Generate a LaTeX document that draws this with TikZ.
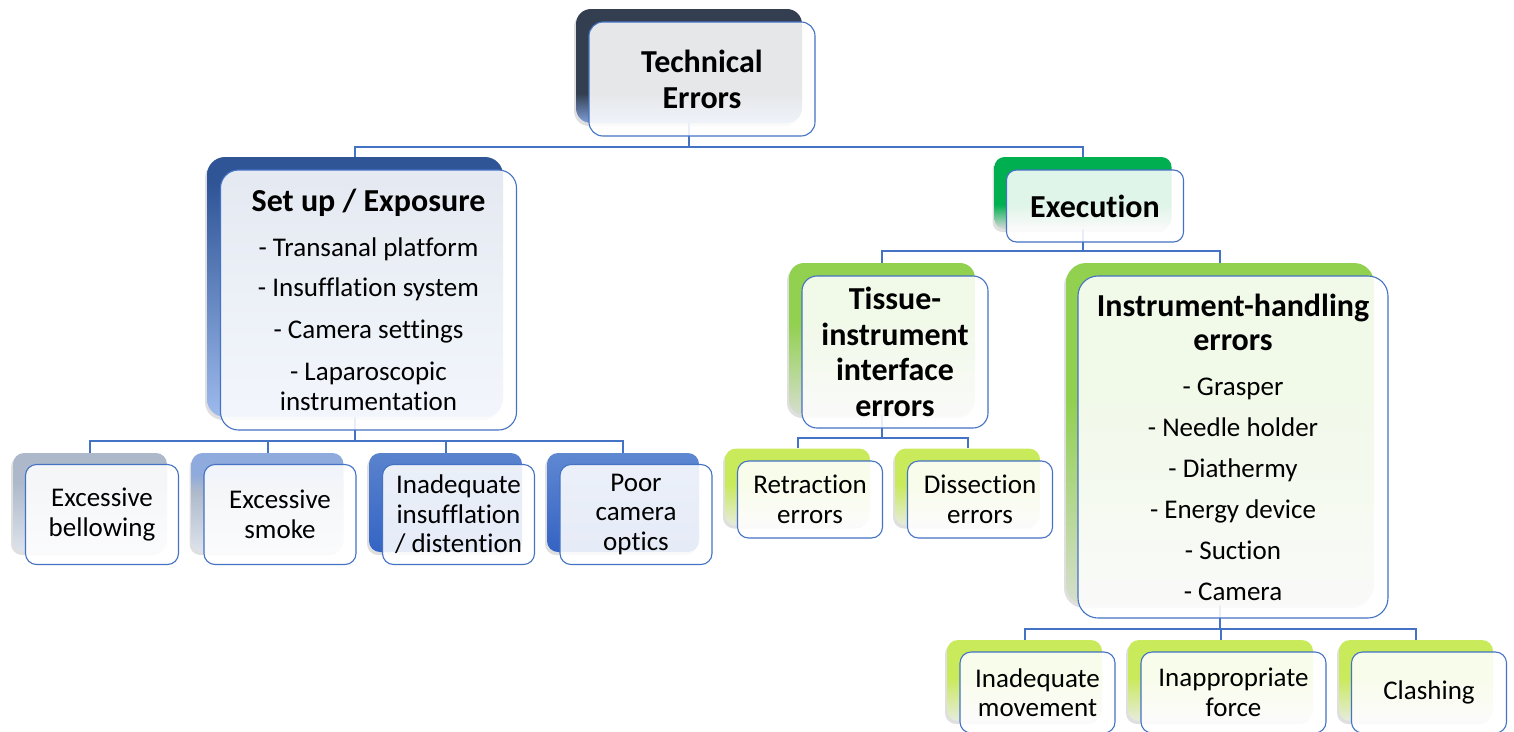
\documentclass[tikz,border=0pt]{standalone}
\usepackage{fontspec}
\setmainfont{Carlito}[Ligatures={NoCommon}]
\usetikzlibrary{calc,shadows}

\definecolor{conn}{HTML}{4472C4}
\definecolor{techT}{HTML}{333F50}\definecolor{techB}{HTML}{7F9FD8}
\definecolor{setT}{HTML}{2F5597}\definecolor{setB}{HTML}{9DBAEC}
\definecolor{exT}{HTML}{00B050}\definecolor{exB}{HTML}{D9D9D9}
\definecolor{grT}{HTML}{92D050}\definecolor{grB}{HTML}{D6DECE}
\definecolor{lgT}{HTML}{C9EA5A}\definecolor{lgB}{HTML}{E6EBDD}
\definecolor{belT}{HTML}{ADB9CA}\definecolor{belB}{HTML}{DDE3EC}
\definecolor{smT}{HTML}{8FAADC}
\definecolor{insT}{HTML}{5A83CE}\definecolor{insB}{HTML}{3464C4}
\definecolor{poT}{HTML}{5F88D2}\definecolor{poB}{HTML}{3563C3}

\pgfdeclareverticalshading{shTech}{100bp}{color(0bp)=(techB); color(25bp)=(techB); color(38bp)=(techT); color(100bp)=(techT)}
\pgfdeclareverticalshading{shSet}{100bp}{color(0bp)=(setB); color(25bp)=(setB); color(70bp)=(setT); color(100bp)=(setT)}
\pgfdeclareverticalshading{shEx}{100bp}{color(0bp)=(exB); color(25bp)=(exB); color(42bp)=(exT); color(100bp)=(exT)}
\pgfdeclareverticalshading{shGr}{100bp}{color(0bp)=(grB); color(25bp)=(grB); color(55bp)=(grT); color(100bp)=(grT)}
\pgfdeclareverticalshading{shLg}{100bp}{color(0bp)=(lgB); color(25bp)=(lgB); color(52bp)=(lgT); color(100bp)=(lgT)}
\pgfdeclareverticalshading{shBel}{100bp}{color(0bp)=(belB); color(25bp)=(belB); color(60bp)=(belT); color(100bp)=(belT)}
\pgfdeclareverticalshading{shSm}{100bp}{color(0bp)=(belB); color(25bp)=(belB); color(56bp)=(belT); color(64bp)=(smT); color(100bp)=(smT)}
\pgfdeclareverticalshading{shIns}{100bp}{color(0bp)=(insB); color(25bp)=(insB); color(75bp)=(insT); color(100bp)=(insT)}
\pgfdeclareverticalshading{shPo}{100bp}{color(0bp)=(poB); color(25bp)=(poB); color(75bp)=(poT); color(100bp)=(poT)}

\pgfdeclarelayer{bg}
\pgfsetlayers{bg,main}

\newcommand{\bigbf}{\fontsize{32}{35.5}\selectfont\bfseries}
\newcommand{\reg}{\fontsize{27}{29.5}\selectfont}

\tikzset{
  backbox/.style={rectangle, rounded corners=15pt, inner sep=0pt, draw=none,
    drop shadow={shadow xshift=-2pt, shadow yshift=-3pt, opacity=0.25}},
  leafback/.style={backbox, rounded corners=11pt},
  frontbox/.style={rectangle, rounded corners=14pt, inner sep=0pt, draw=conn,
    line width=1.1pt, fill=white, fill opacity=0.88, text opacity=1,
    text=black, align=center},
  leaffront/.style={frontbox, rounded corners=11pt, font=\reg},
  wire/.style={draw=conn, line width=2pt},
}

\begin{document}
\begin{tikzpicture}[x=1pt, y=-1pt]
\useasboundingbox (0,0) rectangle (1514,731);

% bus coordinates
\coordinate (b1) at (0,147);
\coordinate (b2) at (0,441);
\coordinate (b3) at (0,251);
\coordinate (b4) at (0,438);
\coordinate (b5) at (0,629);

% ---- Technical Errors
\node[backbox, shading=shTech, minimum width=226pt, minimum height=114pt] (tech) at (689,66) {};
\node[frontbox, minimum width=226pt, minimum height=114pt, font=\bigbf] (techF) at ($(tech)+(13,13)$) {Technical\\[0.5pt]Errors};

% ---- Set up / Exposure
\node[backbox, shading=shSet, rounded corners=18pt, minimum width=296pt, minimum height=260pt] (setup) at (355,287) {};
\node[frontbox, rounded corners=18pt, minimum width=296pt, minimum height=260pt, font=\reg] (setupF) at ($(setup)+(13.5,13)$)
  {{\bigbf Set up / Exposure}\\[15pt]- Transanal platform\\[11pt]- Insufflation system\\[12pt]- Camera settings\\[13pt]- Laparoscopic\\instrumentation};

% ---- Execution
\node[backbox, shading=shEx, rounded corners=10pt, minimum width=177pt, minimum height=72pt] (exec) at (1083,193) {};
\node[frontbox, rounded corners=10pt, minimum width=177pt, minimum height=72pt, font=\bigbf] (execF) at ($(exec)+(12,13)$) {Execution};

% ---- Tissue-instrument interface errors
\node[backbox, shading=shGr, rounded corners=15pt, minimum width=186pt, minimum height=152pt] (tissue) at (882,339) {};
\node[frontbox, rounded corners=15pt, minimum width=186pt, minimum height=152pt, font=\bigbf] (tissueF) at ($(tissue)+(13,13)$)
  {Tissue-\\instrument\\interface\\errors};

% ---- Instrument-handling errors
\node[backbox, shading=shGr, rounded corners=20pt, minimum width=308pt, minimum height=342pt] (instr) at (1220,434) {};
\node[frontbox, rounded corners=20pt, minimum width=310pt, minimum height=342pt, font=\reg] (instrF) at ($(instr)+(13,13)$)
  {{\bigbf Instrument-handling}\\[5pt]{\bigbf errors}\\[15pt]- Grasper\\[11.5pt]- Needle holder\\[11.5pt]- Diathermy\\[11.5pt]- Energy device\\[11.5pt]- Suction\\[11.5pt]- Camera};

% ---- Set up children
\node[leafback, shading=shBel, minimum width=154pt, minimum height=99pt] (bell) at (90,502.5) {};
\node[leaffront, minimum width=153pt, minimum height=100pt] (bellF) at ($(bell)+(12,12)$) {Excessive\\bellowing};

\node[leafback, shading=shSm, minimum width=152pt, minimum height=99pt] (smoke) at (267.5,502.5) {};
\node[leaffront, minimum width=152pt, minimum height=100pt] (smokeF) at ($(smoke)+(12.5,12)$) {Excessive\\smoke};

\node[leafback, shading=shIns, minimum width=153pt, minimum height=99pt] (insuf) at (445.5,502.5) {};
\node[leaffront, minimum width=152pt, minimum height=100pt] (insufF) at ($(insuf)+(13,12)$) {Inadequate\\insufflation\\/ distention};

\node[leafback, shading=shPo, minimum width=152pt, minimum height=99pt] (poor) at (623,502.5) {};
\node[leaffront, minimum width=152pt, minimum height=100pt] (poorF) at ($(poor)+(13,12)$) {Poor\\camera\\optics};

% ---- Tissue children
\node[leafback, shading=shLg, minimum width=145pt, minimum height=77pt] (retr) at (797.5,487) {};
\node[leaffront, minimum width=145pt, minimum height=77pt] (retrF) at ($(retr)+(12.5,12.5)$) {Retraction\\errors};

\node[leafback, shading=shLg, minimum width=145pt, minimum height=77pt] (diss) at (967.5,487) {};
\node[leaffront, minimum width=145pt, minimum height=77pt] (dissF) at ($(diss)+(12.5,12.5)$) {Dissection\\errors};

% ---- Instrument children
\node[leafback, shading=shLg, minimum width=155pt, minimum height=81pt] (move) at (1024.5,680.5) {};
\node[leaffront, minimum width=155pt, minimum height=81pt] (moveF) at ($(move)+(13,12)$) {Inadequate\\movement};

\node[leafback, shading=shLg, minimum width=185pt, minimum height=81pt] (force) at (1220.5,680.5) {};
\node[leaffront, minimum width=185pt, minimum height=81pt] (forceF) at ($(force)+(13,12)$) {Inappropriate\\force};

\node[leafback, shading=shLg, minimum width=154pt, minimum height=81pt] (clash) at (1416,680.5) {};
\node[leaffront, minimum width=155pt, minimum height=81pt] (clashF) at ($(clash)+(13,12)$) {Clashing};

% ---- connectors
\begin{pgfonlayer}{bg}
\draw[wire] (tech.south) -- (tech.south |- b1) -| (setup.north);
\draw[wire] (tech.south |- b1) -| (exec.north);

\draw[wire] (setup.south) -- (setup.south |- b2) -| (bell.north);
\draw[wire] (setup.south |- b2) -| (smoke.north);
\draw[wire] (setup.south |- b2) -| (insuf.north);
\draw[wire] (setup.south |- b2) -| (poor.north);

\draw[wire] (exec.south) -- (exec.south |- b3) -| (tissue.north);
\draw[wire] (exec.south |- b3) -| (instr.north);

\draw[wire] (tissue.south) -- (tissue.south |- b4) -| (retr.north);
\draw[wire] (tissue.south |- b4) -| (diss.north);

\draw[wire] (instr.south) -- (instr.south |- b5) -| (move.north);
\draw[wire] (instr.south |- b5) -| (force.north);
\draw[wire] (instr.south |- b5) -| (clash.north);
\end{pgfonlayer}
\end{tikzpicture}
\end{document}
